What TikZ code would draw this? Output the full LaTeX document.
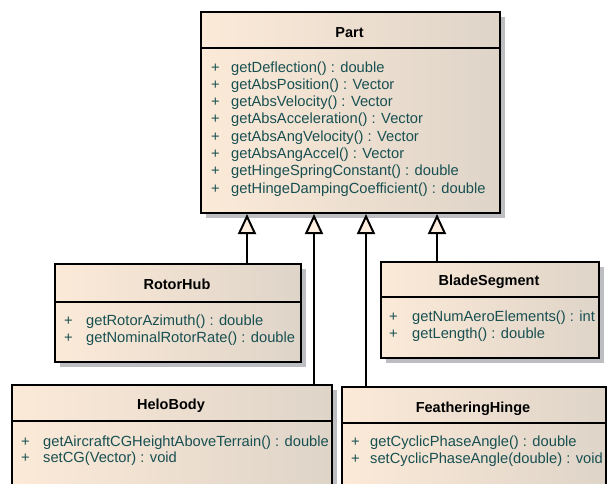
\documentclass[tikz,border=0pt]{standalone}
\usepackage{fontspec}
\setmainfont{Liberation Sans}
\usetikzlibrary{arrows.meta,shadows}

\definecolor{peach}{RGB}{252,234,216}
\definecolor{greige}{RGB}{222,212,200}
\definecolor{memtext}{RGB}{24,80,82}
\definecolor{shadowgray}{RGB}{188,190,194}

\tikzset{
  classbox/.style={draw=black, line width=2pt, rectangle, inner sep=0pt,
    anchor=north west, left color=peach, right color=greige,
    drop shadow={shadow xshift=5pt, shadow yshift=-5pt, fill=shadowgray, opacity=1}},
  sepline/.style={draw=black, line width=1.5pt},
  ctitle/.style={font=\fontsize{14.5}{17}\selectfont\bfseries, text=black, anchor=base, inner sep=0pt},
  plussign/.style={font=\fontsize{14.7}{17}\selectfont, text=memtext, anchor=base west, inner sep=0pt},
  member/.style={font=\fontsize{14.7}{17}\selectfont, text=memtext, anchor=base west, inner sep=0pt},
  inherit/.style={draw=black, line width=2pt,
    -{Triangle[length=20pt, width=18pt, fill=peach!80!white]}},
}

% #1 name, #2 x of '+', #3 x of text, #4 first baseline, #5 line step, #6 list of members
\newcommand{\memberlist}[6]{%
  \foreach \m [count=\i] in {#6} {
    \node[plussign] (#1p\i) at (#2, {#4+(\i-1)*#5}) {+};
    \node[member] (#1m\i) at (#3, {#4+(\i-1)*#5}) {\m};
  }%
}

\begin{document}
\begin{tikzpicture}[x=1pt, y=-1pt]
\useasboundingbox (0,0) rectangle (607,483);
\clip (0,0) rectangle (607,483);

% ---- Part ----
\node[classbox, minimum width=299pt, minimum height=201pt] (part) at (200,11) {};
\draw[sepline] (part.west |- 0,48) -- (part.east |- 0,48);
\node[ctitle] (partT) at (349.5,37) {Part};
\memberlist{part}{211}{231}{72}{17.3}{%
  getDeflection() : double,
  getAbsPosition() : Vector,
  getAbsVelocity() : Vector,
  getAbsAcceleration() : Vector,
  getAbsAngVelocity() : Vector,
  getAbsAngAccel() : Vector,
  getHingeSpringConstant() : double,
  getHingeDampingCoefficient() : double}

% ---- RotorHub ----
\node[classbox, minimum width=246pt, minimum height=98pt] (rotorhub) at (54,263) {};
\draw[sepline] (rotorhub.west |- 0,302) -- (rotorhub.east |- 0,302);
\node[ctitle] (rotorhubT) at (177,289) {RotorHub};
\memberlist{rotorhub}{64}{86}{325}{17}{%
  getRotorAzimuth() : double,
  getNominalRotorRate() : double}

% ---- BladeSegment ----
\node[classbox, minimum width=218pt, minimum height=96pt] (blade) at (380,261) {};
\draw[sepline] (blade.west |- 0,297) -- (blade.east |- 0,297);
\node[ctitle] (bladeT) at (489,285) {BladeSegment};
\memberlist{blade}{389}{412}{321}{17}{%
  getNumAeroElements() : int,
  getLength() : double}

% ---- HeloBody ----
\node[classbox, minimum width=320pt, minimum height=130pt] (helo) at (11,384) {};
\draw[sepline] (helo.west |- 0,421) -- (helo.east |- 0,421);
\node[ctitle] (heloT) at (171,409) {HeloBody};
\memberlist{helo}{21}{43}{446}{16.5}{%
  getAircraftCGHeightAboveTerrain() : double,
  setCG(Vector) : void}

% ---- FeatheringHinge ----
\node[classbox, minimum width=264pt, minimum height=130pt] (hinge) at (341,386) {};
\draw[sepline] (hinge.west |- 0,423) -- (hinge.east |- 0,423);
\node[ctitle] (hingeT) at (473,412) {FeatheringHinge};
\memberlist{hinge}{351}{370}{446}{17}{%
  getCyclicPhaseAngle() : double,
  setCyclicPhaseAngle(double) : void}

% ---- generalisation connectors ----
\coordinate (xrh) at (247,0);
\coordinate (xhb) at (314,0);
\coordinate (xfh) at (366,0);
\coordinate (xbs) at (437,0);
\draw[inherit] (rotorhub.north -| xrh) -- (part.south -| xrh);
\draw[inherit] (helo.north -| xhb) -- (part.south -| xhb);
\draw[inherit] (hinge.north -| xfh) -- (part.south -| xfh);
\draw[inherit] (blade.north -| xbs) -- (part.south -| xbs);
\end{tikzpicture}
\end{document}
